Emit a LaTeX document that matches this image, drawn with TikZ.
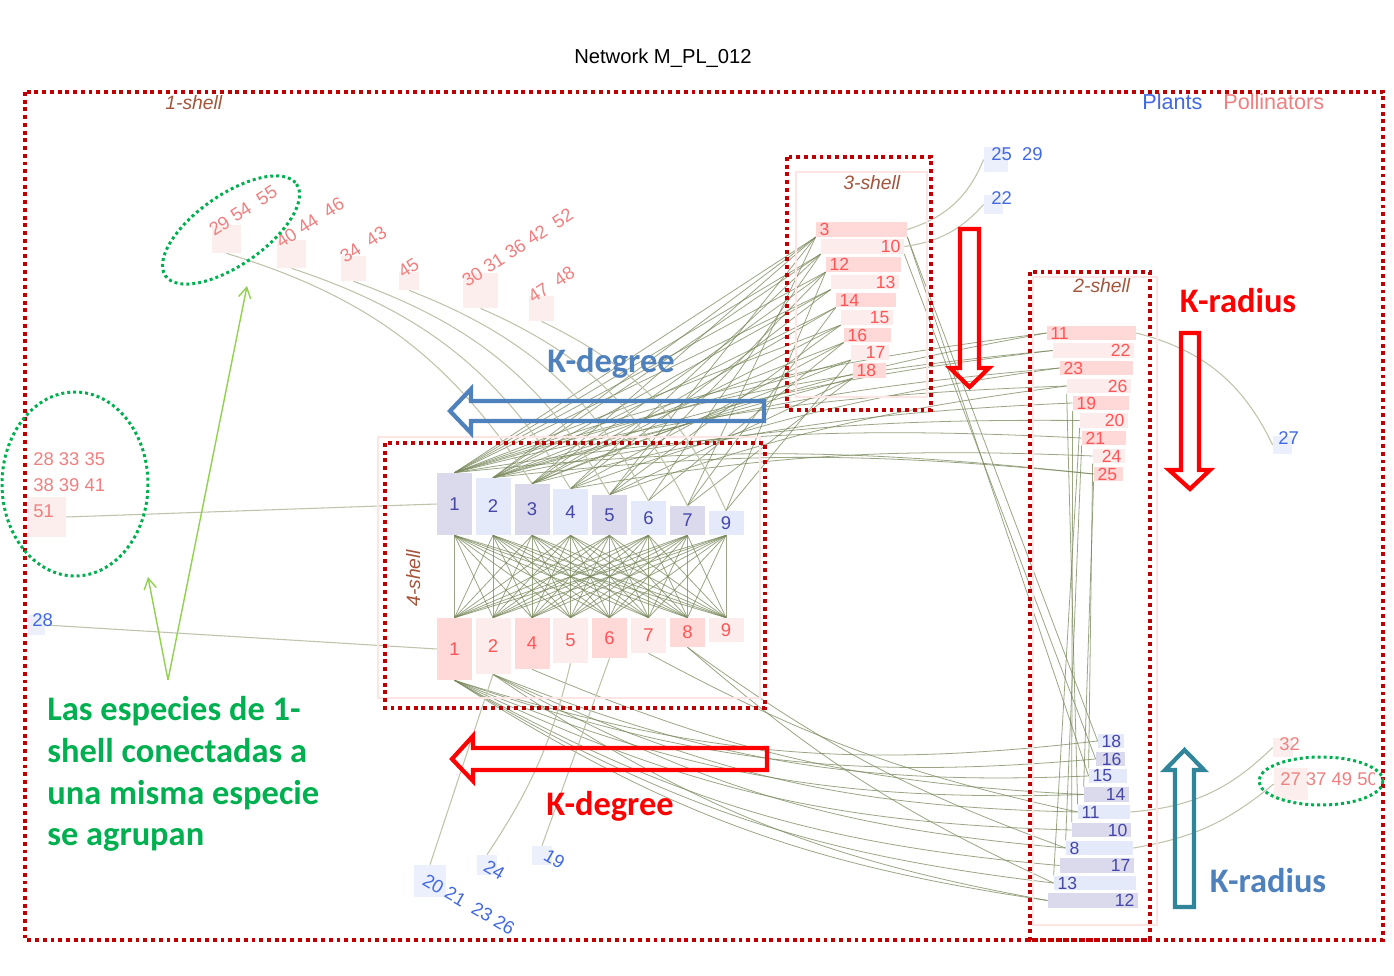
\documentclass[tikz,border=0pt]{standalone}
\usepackage{fontspec}
\setmainfont{Liberation Sans}
\newfontfamily\calibrifont{Carlito}
\usetikzlibrary{arrows.meta}
\pgfdeclarelayer{back}
\pgfdeclarelayer{edges}
\pgfsetlayers{back,edges,main}
\definecolor{framered}{RGB}{192,0,0}
\definecolor{shellbrown}{RGB}{165,85,60}
\definecolor{shellpink}{RGB}{255,228,228}
\definecolor{plantblue}{RGB}{65,105,225}
\definecolor{polred}{RGB}{240,128,128}
\definecolor{plantdark}{RGB}{70,70,170}
\definecolor{polstrong}{RGB}{255,85,85}
\definecolor{plA}{RGB}{218,218,236}
\definecolor{plB}{RGB}{228,234,250}
\definecolor{poA}{RGB}{255,216,216}
\definecolor{poB}{RGB}{253,236,236}
\definecolor{faintpo}{RGB}{253,238,238}
\definecolor{faintpl}{RGB}{236,240,252}
\definecolor{linkgreen}{RGB}{120,135,90}
\definecolor{farlinkgreen}{RGB}{190,195,170}
\definecolor{greenmark}{RGB}{0,176,80}
\definecolor{lightgreen}{RGB}{146,208,80}
\definecolor{kblue}{RGB}{79,129,189}
\definecolor{kteal}{RGB}{49,133,155}
\definecolor{kred}{RGB}{255,0,0}

\begin{document}
\begin{tikzpicture}[x=0.02cm, y=-0.02cm,
    core/.style ={rectangle, inner sep=0pt, minimum width=0.7cm, font=\fontsize{10.5}{12}\selectfont},
    plantcore/.style ={core, fill=#1, text=plantdark},
    polcore/.style ={core, fill=#1, text=polstrong},
    bar/.style ={rectangle, inner xsep=2pt, inner ysep=0pt, minimum height=0.29cm, font=\fontsize{10}{12}\selectfont},
    polbar/.style ={bar, fill=#1, text=polstrong},
    plantbar/.style ={bar, fill=#1, text=plantdark},
    faint/.style ={rectangle, inner sep=0pt, fill=#1},
    outplant/.style ={inner sep=0pt, text=plantblue, font=\fontsize{10.5}{12}\selectfont},
    outpol/.style ={inner sep=0pt, text=polred, font=\fontsize{10.5}{15}\selectfont},
    shelltag/.style ={inner sep=0pt, text=shellbrown, font=\fontsize{11}{13}\selectfont\itshape},
    shellframe/.style ={draw=framered, line width=2.2pt, dash pattern=on 2.2pt off 2.2pt},
    shellarea/.style ={draw=shellpink, line width=0.7pt},
    grouping/.style ={draw=greenmark, line width=1.7pt, dash pattern=on 1.7pt off 1.7pt},
    link/.style ={draw=linkgreen, line width=0.45pt, draw opacity=0.75},
    farlink/.style ={draw=farlinkgreen, line width=0.6pt},
    pointer/.style ={draw=lightgreen, line width=0.8pt, -{Straight Barb[length=6pt,width=7pt]}},
    kfont/.style ={inner sep=0pt, font=\calibrifont\bfseries\fontsize{19.6}{24}\selectfont},
    hollow/.style ={line width=2.4pt, line join=miter}]

   \begin{pgfonlayer}{back}
   \fill[white] (0,0) rectangle (1394,976);
   \end{pgfonlayer}
   \useasboundingbox (0,0) rectangle (1394,976);

   % title and legend
   \node[inner sep=0pt, font=\fontsize{11.5}{13}\selectfont, anchor=base] (title) at (663,64) {Network M\_PL\_012};
   \node[inner sep=0pt, text=plantblue, font=\fontsize{12.3}{14}\selectfont, anchor=base west] (legPl) at (1142,110) {Plants};
   \node[inner sep=0pt, text=polred, font=\fontsize{12.3}{14}\selectfont, anchor=base west] (legPo) at (1223,110) {Pollinators};

   % shell areas
   \draw[shellarea] (796,172) rectangle (927,397);
   \draw[shellarea] (1033,277) rectangle (1157,925);
   \draw[shellarea] (378,437) rectangle (760,698);
   \node[shelltag, anchor=base west] (s1) at (165,110) {1-shell};
   \node[shelltag, anchor=base west] (s3) at (843,190) {3-shell};
   \node[shelltag, anchor=base west] (s2) at (1073,293) {2-shell};
   \node[shelltag, anchor=base west, rotate=90] (s4) at (420,607) {4-shell};

   % 4-shell plants
   \node[plantcore=plA, minimum height=1.24cm] (A1) at (454.5,504) {1};
   \node[plantcore=plB, minimum height=1.14cm] (A2) at (493,506.5) {2};
   \node[plantcore=plA, minimum height=1.02cm] (A3) at (532,509.5) {3};
   \node[plantcore=plB, minimum height=0.92cm] (A4) at (570.5,512) {4};
   \node[plantcore=plA, minimum height=0.80cm] (A5) at (609.5,515) {5};
   \node[plantcore=plB, minimum height=0.68cm] (A6) at (648.5,518) {6};
   \node[plantcore=plA, minimum height=0.58cm] (A7) at (687.5,520.5) {7};
   \node[plantcore=plB, minimum height=0.48cm] (A9) at (726,523) {9};

   % 4-shell pollinators
   \node[polcore=poA, minimum height=1.24cm] (B1) at (454.5,649) {1};
   \node[polcore=poB, minimum height=1.12cm] (B2) at (493,646) {2};
   \node[polcore=poA, minimum height=1.02cm] (B4) at (532,643.5) {4};
   \node[polcore=poB, minimum height=0.90cm] (B5) at (570.5,640.5) {5};
   \node[polcore=poA, minimum height=0.80cm] (B6) at (609.5,638) {6};
   \node[polcore=poB, minimum height=0.70cm] (B7) at (648.5,635.5) {7};
   \node[polcore=poA, minimum height=0.58cm] (B8) at (687.5,632.5) {8};
   \node[polcore=poB, minimum height=0.48cm] (B9) at (726,630) {9};

   % 3-shell pollinators
   \node[polbar=poA, text width=1.68cm, align=left]  (C3)  at (861.5,229.5) {3};
   \node[polbar=poB, text width=1.52cm, align=right] (C10) at (862.5,246.5) {10};
   \node[polbar=poA, text width=1.36cm, align=left]  (C12) at (863.5,264.5) {12};
   \node[polbar=poB, text width=1.22cm, align=right] (C13) at (865,282) {13};
   \node[polbar=poA, text width=1.06cm, align=left]  (C14) at (866,300) {14};
   \node[polbar=poB, text width=0.90cm, align=right] (C15) at (867,317.5) {15};
   \node[polbar=poA, text width=0.80cm, align=left]  (C16) at (867.5,335) {16};
   \node[polbar=poB, text width=0.62cm, align=right] (C17) at (870,352.5) {17};
   \node[polbar=poA, text width=0.52cm, align=left]  (C18) at (869.5,370.5) {18};

   % 2-shell pollinators
   \node[polbar=poA, text width=1.64cm, align=left]  (D11) at (1091.5,333) {11};
   \node[polbar=poB, text width=1.48cm, align=right] (D22) at (1093.5,350.5) {22};
   \node[polbar=poA, text width=1.32cm, align=left]  (D23) at (1096.5,368) {23};
   \node[polbar=poB, text width=1.14cm, align=right] (D26) at (1099,386) {26};
   \node[polbar=poA, text width=0.98cm, align=left]  (D19) at (1101,403) {19};
   \node[polbar=poB, text width=0.82cm, align=right] (D20) at (1104,420.5) {20};
   \node[polbar=poA, text width=0.74cm, align=left]  (D21) at (1104,438) {21};
   \node[polbar=poB, text width=0.50cm, align=right] (D24) at (1109,456) {24};
   \node[polbar=poA, text width=0.44cm, align=left]  (D25) at (1108.5,474) {25};

   % 2-shell plants
   \node[plantbar=plB, text width=0.38cm, align=left]  (E18) at (1111,741) {18};
   \node[plantbar=plA, text width=0.44cm, align=right] (E16) at (1110.5,759) {16};
   \node[plantbar=plB, text width=0.62cm, align=left]  (E15) at (1108,776) {15};
   \node[plantbar=plA, text width=0.76cm, align=right] (E14) at (1106.5,794.5) {14};
   \node[plantbar=plB, text width=0.90cm, align=left]  (E11) at (1104,812) {11};
   \node[plantbar=plA, text width=1.04cm, align=right] (E10) at (1101.5,830) {10};
   \node[plantbar=plB, text width=1.20cm, align=left]  (E8)  at (1099.5,848) {8};
   \node[plantbar=plA, text width=1.34cm, align=right] (E17) at (1097,865.5) {17};
   \node[plantbar=plB, text width=1.50cm, align=left]  (E13) at (1095,883) {13};
   \node[plantbar=plA, text width=1.66cm, align=right] (E12) at (1093,900.5) {12};

   % 1-shell pollinators
   \node[faint=faintpo, minimum width=0.58cm, minimum height=0.56cm] (F1) at (226.5,239) {};
   \node[faint=faintpo, minimum width=0.58cm, minimum height=0.56cm] (F2) at (291.5,254) {};
   \node[faint=faintpo, minimum width=0.50cm, minimum height=0.50cm] (F3) at (353.5,268.5) {};
   \node[faint=faintpo, minimum width=0.40cm, minimum height=0.36cm] (F4) at (409,281) {};
   \node[faint=faintpo, minimum width=0.70cm, minimum height=0.70cm] (F5) at (480.5,290.5) {};
   \node[faint=faintpo, minimum width=0.50cm, minimum height=0.50cm] (F6) at (541.5,308.5) {};
   \node[faint=faintpo, minimum width=0.76cm, minimum height=0.80cm] (F7) at (47,517) {};
   \node[faint=faintpo, minimum width=0.40cm, minimum height=0.38cm] (F8) at (1283,747.5) {};
   \node[faint=faintpo, minimum width=0.68cm, minimum height=0.64cm] (F9) at (1291,784) {};
   \node[outpol, rotate=33, anchor=base west] (tF1) at (214,237) {29~54~~55};
   \node[outpol, rotate=33, anchor=base west] (tF2) at (281,249) {40~44~~46};
   \node[outpol, rotate=33, anchor=base west] (tF3) at (345,264) {34~~43};
   \node[outpol, rotate=33, anchor=base west] (tF4) at (403,279) {45};
   \node[outpol, rotate=33, anchor=base west] (tF5) at (467,288) {30~31~36~42~~52};
   \node[outpol, rotate=33, anchor=base west] (tF6) at (533,304) {47~~48};
   \node[outpol, anchor=north west, align=left] (tF7) at (33,452) {28 33 35\\38 39 41\\51};
   \node[outpol, anchor=base west] (tF8) at (1279,750) {32};
   \begin{scope}
   \clip (1270,760) rectangle (1374,800);
   \node[outpol, anchor=base west] (tF9) at (1280,785) {27 37 49 50};
   \end{scope}

   % 1-shell plants
   \node[faint=faintpl, minimum width=0.48cm, minimum height=0.50cm] (G1) at (996,159.5) {};
   \node[faint=faintpl, minimum width=0.38cm, minimum height=0.38cm] (G2) at (993.5,204.5) {};
   \node[faint=faintpl, minimum width=0.38cm, minimum height=0.36cm] (G3) at (1282.5,445) {};
   \node[faint=faintpl, minimum width=0.34cm, minimum height=0.40cm] (G4) at (36.5,625) {};
   \node[faint=faintpl, minimum width=0.64cm, minimum height=0.64cm] (G5) at (430,881) {};
   \node[faint=faintpl, minimum width=0.40cm, minimum height=0.40cm] (G6) at (487,865) {};
   \node[faint=faintpl, minimum width=0.40cm, minimum height=0.38cm] (G7) at (542,855.5) {};
   \node[outplant, anchor=base west] (tG1) at (991,161) {25~~29};
   \node[outplant, anchor=base west] (tG2) at (991,205) {22};
   \node[outplant, anchor=base west] (tG3) at (1278,445) {27};
   \node[outplant, anchor=base west] (tG4) at (32,626) {28};
   \node[outplant, rotate=-30, anchor=base west] (tG5) at (421,884) {20~21~~23~26};
   \node[outplant, rotate=-30, anchor=base west] (tG6) at (482,870) {24};
   \node[outplant, rotate=-30, anchor=base west] (tG7) at (542,859) {19};

   \begin{pgfonlayer}{edges}
   % inside the 4-shell
   \draw[link] (A1.south) edge (B1.north) edge (B2.north) edge (B4.north) edge (B5.north) edge (B6.north) edge (B7.north) edge (B8.north) edge (B9.north);
   \draw[link] (A2.south) edge (B1.north) edge (B2.north) edge (B4.north) edge (B5.north) edge (B6.north) edge (B7.north) edge (B8.north) edge (B9.north);
   \draw[link] (A3.south) edge (B1.north) edge (B2.north) edge (B4.north) edge (B5.north) edge (B6.north) edge (B7.north) edge (B8.north) edge (B9.north);
   \draw[link] (A4.south) edge (B1.north) edge (B2.north) edge (B4.north) edge (B5.north) edge (B6.north) edge (B7.north) edge (B8.north) edge (B9.north);
   \draw[link] (A5.south) edge (B1.north) edge (B2.north) edge (B4.north) edge (B5.north) edge (B6.north) edge (B7.north) edge (B8.north) edge (B9.north);
   \draw[link] (A6.south) edge (B1.north) edge (B2.north) edge (B4.north) edge (B5.north) edge (B6.north) edge (B7.north) edge (B8.north) edge (B9.north);
   \draw[link] (A7.south) edge (B1.north) edge (B2.north) edge (B4.north) edge (B5.north) edge (B6.north) edge (B7.north) edge (B8.north) edge (B9.north);
   \draw[link] (A9.south) edge (B1.north) edge (B2.north) edge (B4.north) edge (B5.north) edge (B6.north) edge (B7.north) edge (B8.north) edge (B9.north);

   % 3-shell to 4-shell plants
   \draw[link] (C3.south west) edge (A1.north) edge (A2.north) edge (A3.north) edge (A5.north) edge (A7.north);
   \draw[link] (C10.south west) edge (A1.north) edge (A2.north) edge (A4.north) edge (A6.north);
   \draw[link] (C12.south west) edge (A1.north) edge (A3.north) edge (A5.north) edge (A9.north);
   \draw[link] (C13.south west) edge (A1.north) edge (A2.north) edge (A4.north);
   \draw[link] (C14.south west) edge (A2.north) edge (A3.north) edge (A7.north);
   \draw[link] (C15.south west) edge (A1.north) edge (A3.north) edge (A5.north);
   \draw[link] (C16.south west) edge (A2.north) edge (A4.north) edge (A6.north);
   \draw[link] (C17.south west) edge (A1.north) edge (A3.north) edge (A9.north);
   \draw[link] (C18.south west) edge (A2.north) edge (A5.north) edge (A7.north);

   % 2-shell pollinators to 4-shell plants
   \draw[link] (D11.west) edge[bend right=6] (A1.north) edge[bend right=6] (A3.north);
   \draw[link] (D22.west) edge[bend right=6] (A1.north) edge[bend right=6] (A2.north);
   \draw[link] (D23.west) edge[bend right=6] (A2.north) edge[bend right=6] (A4.north);
   \draw[link] (D26.west) edge[bend right=6] (A1.north) edge[bend right=6] (A5.north);
   \draw[link] (D19.west) edge[bend right=6] (A3.north);
   \draw[link] (D20.west) edge[bend right=6] (A2.north);
   \draw[link] (D21.west) edge[bend right=6] (A1.north);
   \draw[link] (D24.west) edge[bend right=6] (A4.north);
   \draw[link] (D25.west) edge[bend right=6] (A1.north) edge[bend right=6] (A2.north);

   % 2-shell pollinators to 2-shell plants
   \draw[link] (D19.south west) to (E10.north west);
   \draw[link] (D20.south west) to (E13.north west);
   \draw[link] (D21.south west) to (E8.north west);
   \draw[link] (D24.south west) to (E15.north west);
   \draw[link] (D25.south west) to (E14.north west);
   \draw[link] (D26.south west) to (E11.north west);
   \draw[link] (C3.south east) edge (E18.west) edge (E15.west);
   \draw[link] (C10.south east) to (E16.west);

   % 4-shell pollinators to 2-shell plants
   \draw[link] (B1.south) edge[bend right=12] (E18.west) edge[bend right=12] (E16.west) edge[bend right=12] (E14.west) edge[bend right=12] (E10.west) edge[bend right=12] (E17.west) edge[bend right=12] (E13.west) edge[bend right=12] (E12.west);
   \draw[link] (B2.south) edge[bend right=12] (E15.west) edge[bend right=12] (E11.west) edge[bend right=12] (E8.west) edge[bend right=12] (E12.west);
   \draw[link] (B4.south) to[bend right=10] (E14.west);
   \draw[link] (B7.south) to[bend right=8] (E11.west);
   \draw[link] (B8.south) edge[bend right=8] (E8.west) edge[bend right=8] (E13.west);

   % 1-shell species
   \draw[farlink] (F1.south) to[bend left=20] (A3.north);
   \draw[farlink] (F2.south) to[bend left=20] (A4.north);
   \draw[farlink] (F3.south) to[bend left=20] (A5.north);
   \draw[farlink] (F4.south) to[bend left=20] (A6.north);
   \draw[farlink] (F5.south) to[bend left=20] (A7.north);
   \draw[farlink] (F6.south) to[bend left=20] (A9.north);
   \draw[farlink] (F7.east) to (A1.west);
   \draw[farlink] (G4.east) to (B1.west);
   \draw[farlink] (B2.south) to (G5.north);
   \draw[farlink] (B5.south) to[bend left=10] (G6.north);
   \draw[farlink] (B6.south) to (G7.north);
   \draw[farlink] (C3.east) to[bend right=25] (G1.west);
   \draw[farlink] (C10.east) to[bend right=20] (G2.west);
   \draw[farlink] (D11.east) to[bend left=25] (G3.west);
   \draw[farlink] (E11.east) to[bend right=20] (F8.west);
   \draw[farlink] (E8.east) to[bend right=15] (F9.west);
   \end{pgfonlayer}

   % shell frames
   \draw[shellframe] (25,92) rectangle (1383,940);
   \draw[shellframe] (787,157) rectangle (931,410);
   \draw[shellframe] (1030,272) rectangle (1150,940);
   \draw[shellframe] (385,443) rectangle (765,708);

   % groupings of 1-shell species
   \draw[grouping, rotate around={35:(231,230)}] (231,230) ellipse [x radius=80, y radius=35];
   \draw[grouping] (75,484) ellipse [x radius=73, y radius=92];
   \draw[grouping] (1321,781) ellipse [x radius=62, y radius=24];
   \coordinate (gsrc) at (168,680);
   \coordinate (gtipA) at (247,286);
   \coordinate (gtipB) at (148,577);
   \draw[pointer] (gsrc) -- (gtipA);
   \draw[pointer] (gsrc) -- (gtipB);
   \node[inner sep=0pt, anchor=north west, align=left, text=greenmark, font=\calibrifont\bfseries\fontsize{19.6}{23.8}\selectfont] (note) at (47,696) {Las especies de 1-\\shell conectadas a\\una misma especie\\se agrupan};

   % directions
   \draw[hollow, draw=kblue] (764,401) -- (471,401) -- (471,389) -- (450,411) -- (471,433) -- (471,421) -- (764,421) -- cycle;
   \draw[hollow, draw=kred] (767,748) -- (473,748) -- (473,736) -- (452,759) -- (473,781) -- (473,770) -- (767,770) -- cycle;
   \draw[hollow, draw=kred] (960,229) -- (979,229) -- (979,368) -- (989,368) -- (969.5,387) -- (950,368) -- (960,368) -- cycle;
   \draw[hollow, draw=kred] (1181,333) -- (1199,333) -- (1199,470) -- (1210,470) -- (1190,489) -- (1169,470) -- (1181,470) -- cycle;
   \draw[hollow, draw=kteal] (1175,907) -- (1194,907) -- (1194,770) -- (1204,770) -- (1184.5,750) -- (1165,770) -- (1175,770) -- cycle;
   \node[kfont, text=kblue, anchor=base] (kdegA) at (611,373) {K-degree};
   \node[kfont, text=kred, anchor=base] (kdegB) at (610,815) {K-degree};
   \node[kfont, text=kred, anchor=base] (kradA) at (1238,313) {K-radius};
   \node[kfont, text=kblue, anchor=base] (kradB) at (1268,892) {K-radius};

 \end{tikzpicture}
\end{document}
